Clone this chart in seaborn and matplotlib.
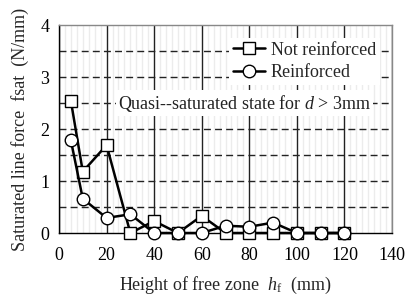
import matplotlib
matplotlib.use("Agg")
import matplotlib.pyplot as plt
import seaborn as sns
import pandas as pd
import numpy as np
from matplotlib.ticker import MultipleLocator

heights = [5, 10, 20, 30, 40, 50, 60, 70, 80, 90, 100, 110, 120]
not_reinforced = [2.54, 1.18, 1.69, 0.0, 0.23, 0.0, 0.33, 0.0, 0.0, 0.0, 0.0, 0.0, 0.0]
reinforced = [1.78, 0.66, 0.29, 0.36, 0.0, 0.0, 0.0, 0.14, 0.12, 0.2, 0.0, 0.0, 0.0]
series_names = ["Not reinforced", "Reinforced"]

df = pd.DataFrame({
    "h": heights * 2,
    "f": not_reinforced + reinforced,
    "series": [series_names[0]] * len(heights) + [series_names[1]] * len(heights),
})

sns.set_style("white")
plt.rcParams["font.family"] = ["Liberation Serif", "DejaVu Serif"]
plt.rcParams["mathtext.fontset"] = "custom"
plt.rcParams["mathtext.it"] = "Liberation Serif:italic"
plt.rcParams["mathtext.rm"] = "Liberation Serif"

fig = plt.figure(figsize=(4.17, 3.07), dpi=100)
ax = fig.add_axes([59/417, 1 - 233/307, (392-59)/417, (233-25)/307])

sns.lineplot(data=df, x="h", y="f", hue="series", style="series",
             markers={"Not reinforced": "s", "Reinforced": "o"}, dashes=False,
             palette={"Not reinforced": "black", "Reinforced": "black"},
             markersize=9, markerfacecolor="white", markeredgecolor="black",
             markeredgewidth=1.0, linewidth=1.8, ax=ax, zorder=5, clip_on=False)

ax.set_xlim(0, 140)
ax.set_ylim(0, 4)
ax.xaxis.set_major_locator(MultipleLocator(20))
ax.xaxis.set_minor_locator(MultipleLocator(2.5))
ax.yaxis.set_major_locator(MultipleLocator(1))
ax.yaxis.set_minor_locator(MultipleLocator(0.5))

ax.grid(False)
ax.grid(which="major", axis="x", color="#222222", linewidth=1.0)
ax.grid(which="minor", axis="x", color="#ececec", linewidth=1.0)
for yv in np.arange(0.5, 4.0, 0.5):
    ax.axhline(yv, color="#222222", linewidth=1.0, linestyle=(0, (5, 3)), zorder=1)

for side in ["left", "bottom"]:
    ax.spines[side].set_color("black")
    ax.spines[side].set_linewidth(1.0)
for side in ["top", "right"]:
    ax.spines[side].set_color("#888888")
    ax.spines[side].set_linewidth(1.0)

ax.tick_params(which="both", length=0, labelsize=13, colors="black")
ax.tick_params(axis="x", pad=10)
ax.tick_params(axis="y", pad=7)
ax.set_xlabel("Height of free zone  $h_\\mathrm{f}$  (mm)", fontsize=13, labelpad=8)
ax.set_ylabel("Saturated line force  fsat  (N/mm)", fontsize=13, labelpad=8)

ax.text(78, 2.5, "Quasi-‐saturated state for $d$ > 3mm", fontsize=13,
        ha="center", va="center", color="#222222",
        bbox=dict(facecolor="white", edgecolor="none", pad=1.5), zorder=3)

leg = ax.legend(loc="upper right", bbox_to_anchor=(0.99, 0.98), fontsize=13,
                frameon=True, framealpha=1, edgecolor="none", fancybox=False,
                handlelength=1.8, handletextpad=0.3, borderpad=0.2, labelspacing=0.3)
for h in leg.legend_handles:
    h.set_markerfacecolor("white")
leg.set_zorder(4)

fig.savefig("out.png", dpi=100)
